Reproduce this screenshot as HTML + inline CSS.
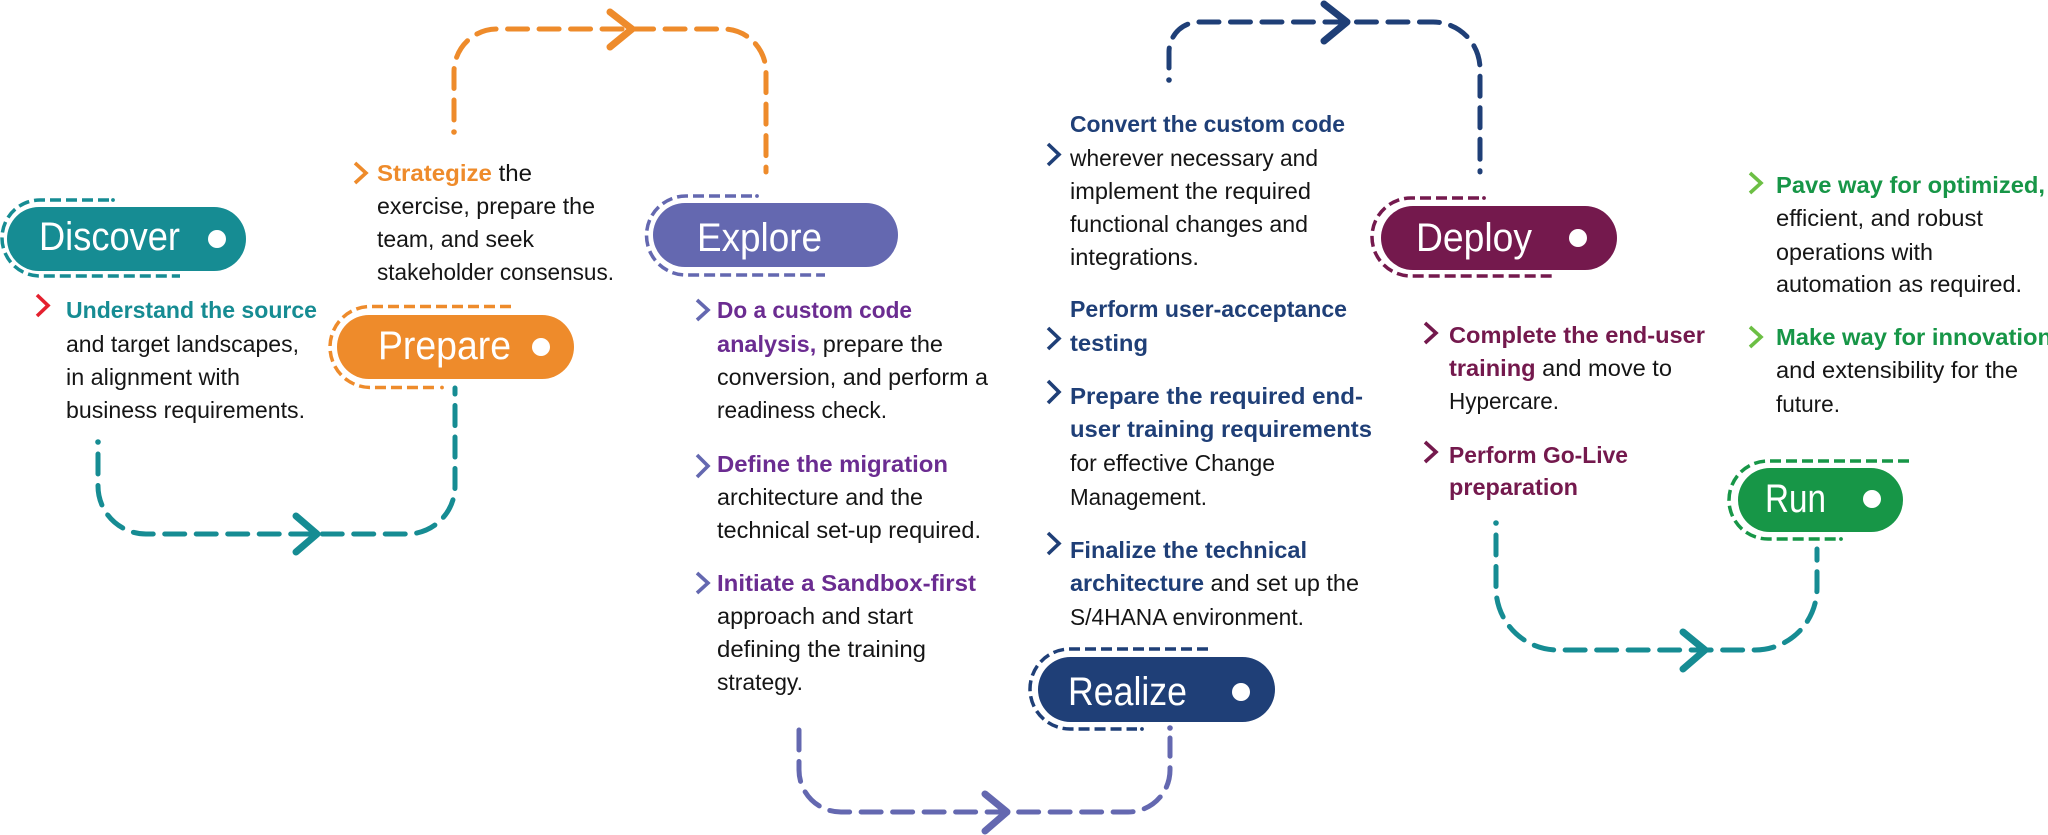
<!DOCTYPE html>
<html>
<head>
<meta charset="utf-8">
<style>
  html,body{margin:0;padding:0;background:#fff;}
  svg{display:block;}
  .t{font-family:"Liberation Sans",sans-serif;font-size:23px;fill:#151515;}
  .b{font-weight:bold;}
  .pl{font-family:"Liberation Sans",sans-serif;font-size:40px;fill:#fff;}
  .cn{fill:none;stroke-width:5;stroke-dasharray:20 11.5;stroke-linecap:round;stroke-linejoin:round;}
  .ar{fill:none;stroke-width:7;stroke-linecap:round;stroke-linejoin:round;}
  .ol{fill:none;stroke-width:3.5;stroke-dasharray:11 5;}
  .ch{fill:none;stroke-width:3.6;stroke-linejoin:miter;}
</style>
</head>
<body>
<svg width="2048" height="835" viewBox="0 0 2048 835" xmlns="http://www.w3.org/2000/svg">

<!-- ================= CONNECTORS ================= -->
<!-- Discover -> Prepare (teal) -->
<circle cx="98" cy="442" r="2.8" fill="#168C93"/>
<path class="cn" stroke="#168C93" d="M98 454 L98 486 A48 48 0 0 0 146 534 L407 534 A48 48 0 0 0 455 486 L455 388"/>
<polyline class="ar" stroke="#168C93" points="296,516 317,534 296,552"/>

<!-- Prepare -> Explore (orange) -->
<circle cx="454" cy="132" r="2.8" fill="#EE8B2B"/>
<path class="cn" stroke="#EE8B2B" d="M454 120 L454 72 A43 43 0 0 1 497 29 L723 29 A43 43 0 0 1 766 72 L766 172"/>
<polyline class="ar" stroke="#EE8B2B" points="610,12 632,29 610,47"/>

<!-- Explore -> Realize (periwinkle) -->
<path class="cn" stroke="#6468B0" d="M799 730 L799 770 A42 42 0 0 0 841 812 L1128 812 A42 42 0 0 0 1170 770 L1170 738"/>
<circle cx="1170" cy="728" r="2.8" fill="#6468B0"/>
<polyline class="ar" stroke="#6468B0" points="985,794 1007,812 985,831"/>

<!-- Realize -> Deploy (navy) -->
<circle cx="1169" cy="80" r="2.8" fill="#1F3F77"/>
<path class="cn" stroke="#1F3F77" d="M1169 68 L1169 52 A30 30 0 0 1 1199 22 L1433 22 A47 47 0 0 1 1480 69 L1480 172"/>
<polyline class="ar" stroke="#1F3F77" points="1324,4 1347,22 1324,41"/>

<!-- Deploy -> Run (teal) -->
<circle cx="1496" cy="523" r="2.8" fill="#168C93"/>
<path class="cn" stroke="#168C93" d="M1496 535 L1496 588 A62 62 0 0 0 1558 650 L1755 650 A62 62 0 0 0 1817 588 L1817 549"/>
<polyline class="ar" stroke="#168C93" points="1683,632 1705,650 1683,669"/>

<!-- ================= PILLS ================= -->
<!-- Discover -->
<path class="ol" stroke="#168C93" d="M109 200 L40 200 A38 38 0 0 0 40 276 L180 276"/>
<circle cx="113" cy="200" r="1.9" fill="#168C93"/>
<rect x="7" y="207" width="239" height="64" rx="32" fill="#168C93"/>
<text class="pl" x="39" y="250" textLength="141" lengthAdjust="spacingAndGlyphs">Discover</text>
<circle cx="217" cy="239" r="9" fill="#fff"/>

<!-- Prepare -->
<path class="ol" stroke="#EE8B2B" d="M511 306.5 L370.5 306.5 A40.5 40.5 0 0 0 370.5 387.5 L437 387.5"/>
<circle cx="442" cy="387.5" r="1.9" fill="#EE8B2B"/>
<rect x="337" y="315" width="237" height="64" rx="32" fill="#EE8B2B"/>
<text class="pl" x="378" y="359" textLength="133" lengthAdjust="spacingAndGlyphs">Prepare</text>
<circle cx="541" cy="347" r="9" fill="#fff"/>

<!-- Explore -->
<path class="ol" stroke="#6468B0" d="M752 196 L686 196 A39.5 39.5 0 0 0 686 275 L825 275"/>
<circle cx="757" cy="196" r="1.9" fill="#6468B0"/>
<rect x="653" y="203" width="245" height="64" rx="32" fill="#6468B0"/>
<text class="pl" x="697" y="251" textLength="125" lengthAdjust="spacingAndGlyphs">Explore</text>

<!-- Realize -->
<path class="ol" stroke="#1F3F77" d="M1208 649 L1070 649 A40 40 0 0 0 1070 729 L1137 729"/>
<circle cx="1142" cy="729" r="1.9" fill="#1F3F77"/>
<rect x="1038" y="657" width="237" height="65" rx="32.5" fill="#1F3F77"/>
<text class="pl" x="1068" y="705" textLength="119" lengthAdjust="spacingAndGlyphs">Realize</text>
<circle cx="1241" cy="692" r="9" fill="#fff"/>

<!-- Deploy -->
<path class="ol" stroke="#74194D" d="M1479 198 L1411 198 A39 39 0 0 0 1411 276 L1552 276"/>
<circle cx="1484" cy="198" r="1.9" fill="#74194D"/>
<rect x="1381" y="206" width="236" height="64" rx="32" fill="#74194D"/>
<text class="pl" x="1416" y="251" textLength="116" lengthAdjust="spacingAndGlyphs">Deploy</text>
<circle cx="1578" cy="238" r="9" fill="#fff"/>

<!-- Run -->
<path class="ol" stroke="#179647" d="M1909 461 L1768 461 A39 39 0 0 0 1768 539 L1836 539"/>
<circle cx="1841" cy="539" r="1.9" fill="#179647"/>
<rect x="1738" y="468" width="165" height="64" rx="32" fill="#179647"/>
<text class="pl" x="1765" y="512" textLength="61" lengthAdjust="spacingAndGlyphs">Run</text>
<circle cx="1872" cy="499" r="9" fill="#fff"/>

<!-- ================= TEXT: DISCOVER ================= -->
<polyline class="ch" stroke="#E4202E" points="37,295 48,305.5 37,316"/>
<text class="t b" x="66" y="318" textLength="251" lengthAdjust="spacingAndGlyphs" style="fill:#168C93">Understand the source</text>
<text class="t" x="66" y="352" textLength="233" lengthAdjust="spacingAndGlyphs">and target landscapes,</text>
<text class="t" x="66" y="385" textLength="174" lengthAdjust="spacingAndGlyphs">in alignment with</text>
<text class="t" x="66" y="418" textLength="239" lengthAdjust="spacingAndGlyphs">business requirements.</text>

<!-- ================= TEXT: PREPARE ================= -->
<polyline class="ch" stroke="#EE8B2B" points="355,163 366,173 355,183"/>
<text class="t" x="377" y="181" textLength="155" lengthAdjust="spacingAndGlyphs"><tspan class="b" style="fill:#EE8B2B">Strategize</tspan> the</text>
<text class="t" x="377" y="214" textLength="218" lengthAdjust="spacingAndGlyphs">exercise, prepare the</text>
<text class="t" x="377" y="247" textLength="157" lengthAdjust="spacingAndGlyphs">team, and seek</text>
<text class="t" x="377" y="280" textLength="237" lengthAdjust="spacingAndGlyphs">stakeholder consensus.</text>

<!-- ================= TEXT: EXPLORE ================= -->
<polyline class="ch" stroke="#6468B0" points="697,300 708,310 697,320"/>
<text class="t b" x="717" y="318" textLength="195" lengthAdjust="spacingAndGlyphs" style="fill:#6B2C91">Do a custom code</text>
<text class="t" x="717" y="352" textLength="226" lengthAdjust="spacingAndGlyphs"><tspan class="b" style="fill:#6B2C91">analysis,</tspan> prepare the</text>
<text class="t" x="717" y="385" textLength="271" lengthAdjust="spacingAndGlyphs">conversion, and perform a</text>
<text class="t" x="717" y="418" textLength="170" lengthAdjust="spacingAndGlyphs">readiness check.</text>

<polyline class="ch" stroke="#6468B0" points="697,455 708,466 697,477"/>
<text class="t b" x="717" y="472" textLength="231" lengthAdjust="spacingAndGlyphs" style="fill:#6B2C91">Define the migration</text>
<text class="t" x="717" y="505" textLength="206" lengthAdjust="spacingAndGlyphs">architecture and the</text>
<text class="t" x="717" y="538" textLength="264" lengthAdjust="spacingAndGlyphs">technical set-up required.</text>

<polyline class="ch" stroke="#6468B0" points="697,573 708,583 697,593"/>
<text class="t b" x="717" y="591" textLength="259" lengthAdjust="spacingAndGlyphs" style="fill:#6B2C91">Initiate a Sandbox-first</text>
<text class="t" x="717" y="624" textLength="196" lengthAdjust="spacingAndGlyphs">approach and start</text>
<text class="t" x="717" y="657" textLength="209" lengthAdjust="spacingAndGlyphs">defining the training</text>
<text class="t" x="717" y="690" textLength="86" lengthAdjust="spacingAndGlyphs">strategy.</text>

<!-- ================= TEXT: REALIZE ================= -->
<text class="t b" x="1070" y="132" textLength="275" lengthAdjust="spacingAndGlyphs" style="fill:#1F3F77">Convert the custom code</text>
<polyline class="ch" stroke="#1F3F77" points="1048,144 1059,154.5 1048,165"/>
<text class="t" x="1070" y="166" textLength="248" lengthAdjust="spacingAndGlyphs">wherever necessary and</text>
<text class="t" x="1070" y="199" textLength="241" lengthAdjust="spacingAndGlyphs">implement the required</text>
<text class="t" x="1070" y="232" textLength="238" lengthAdjust="spacingAndGlyphs">functional changes and</text>
<text class="t" x="1070" y="265" textLength="129" lengthAdjust="spacingAndGlyphs">integrations.</text>

<text class="t b" x="1070" y="317" textLength="277" lengthAdjust="spacingAndGlyphs" style="fill:#1F3F77">Perform user-acceptance</text>
<polyline class="ch" stroke="#1F3F77" points="1048,328 1059,338.5 1048,349"/>
<text class="t b" x="1070" y="351" textLength="78" lengthAdjust="spacingAndGlyphs" style="fill:#1F3F77">testing</text>

<polyline class="ch" stroke="#1F3F77" points="1048,381 1059,392 1048,403"/>
<text class="t b" x="1070" y="404" textLength="293" lengthAdjust="spacingAndGlyphs" style="fill:#1F3F77">Prepare the required end-</text>
<text class="t b" x="1070" y="437" textLength="302" lengthAdjust="spacingAndGlyphs" style="fill:#1F3F77">user training requirements</text>
<text class="t" x="1070" y="471" textLength="205" lengthAdjust="spacingAndGlyphs">for effective Change</text>
<text class="t" x="1070" y="505" textLength="137" lengthAdjust="spacingAndGlyphs">Management.</text>

<polyline class="ch" stroke="#1F3F77" points="1048,533 1059,543.5 1048,554"/>
<text class="t b" x="1070" y="558" textLength="237" lengthAdjust="spacingAndGlyphs" style="fill:#1F3F77">Finalize the technical</text>
<text class="t" x="1070" y="591" textLength="289" lengthAdjust="spacingAndGlyphs"><tspan class="b" style="fill:#1F3F77">architecture</tspan> and set up the</text>
<text class="t" x="1070" y="625" textLength="234" lengthAdjust="spacingAndGlyphs">S/4HANA environment.</text>

<!-- ================= TEXT: DEPLOY ================= -->
<polyline class="ch" stroke="#74194D" points="1425,323 1436,333 1425,343"/>
<text class="t b" x="1449" y="343" textLength="256" lengthAdjust="spacingAndGlyphs" style="fill:#74194D">Complete the end-user</text>
<text class="t" x="1449" y="376" textLength="223" lengthAdjust="spacingAndGlyphs"><tspan class="b" style="fill:#74194D">training</tspan> and move to</text>
<text class="t" x="1449" y="409" textLength="110" lengthAdjust="spacingAndGlyphs">Hypercare.</text>

<polyline class="ch" stroke="#74194D" points="1425,442 1436,452 1425,462"/>
<text class="t b" x="1449" y="463" textLength="179" lengthAdjust="spacingAndGlyphs" style="fill:#74194D">Perform Go-Live</text>
<text class="t b" x="1449" y="495" textLength="129" lengthAdjust="spacingAndGlyphs" style="fill:#74194D">preparation</text>

<!-- ================= TEXT: RUN ================= -->
<polyline class="ch" stroke="#6CBF44" points="1750,173 1761,183 1750,193"/>
<text class="t b" x="1776" y="193" textLength="269" lengthAdjust="spacingAndGlyphs" style="fill:#179647">Pave way for optimized,</text>
<text class="t" x="1776" y="226" textLength="207" lengthAdjust="spacingAndGlyphs">efficient, and robust</text>
<text class="t" x="1776" y="260" textLength="157" lengthAdjust="spacingAndGlyphs">operations with</text>
<text class="t" x="1776" y="292" textLength="246" lengthAdjust="spacingAndGlyphs">automation as required.</text>

<polyline class="ch" stroke="#6CBF44" points="1750,327 1761,337 1750,347"/>
<text class="t b" x="1776" y="345" textLength="276" lengthAdjust="spacingAndGlyphs" style="fill:#179647">Make way for innovation</text>
<text class="t" x="1776" y="378" textLength="242" lengthAdjust="spacingAndGlyphs">and extensibility for the</text>
<text class="t" x="1776" y="412" textLength="64" lengthAdjust="spacingAndGlyphs">future.</text>

</svg>
</body>
</html>
